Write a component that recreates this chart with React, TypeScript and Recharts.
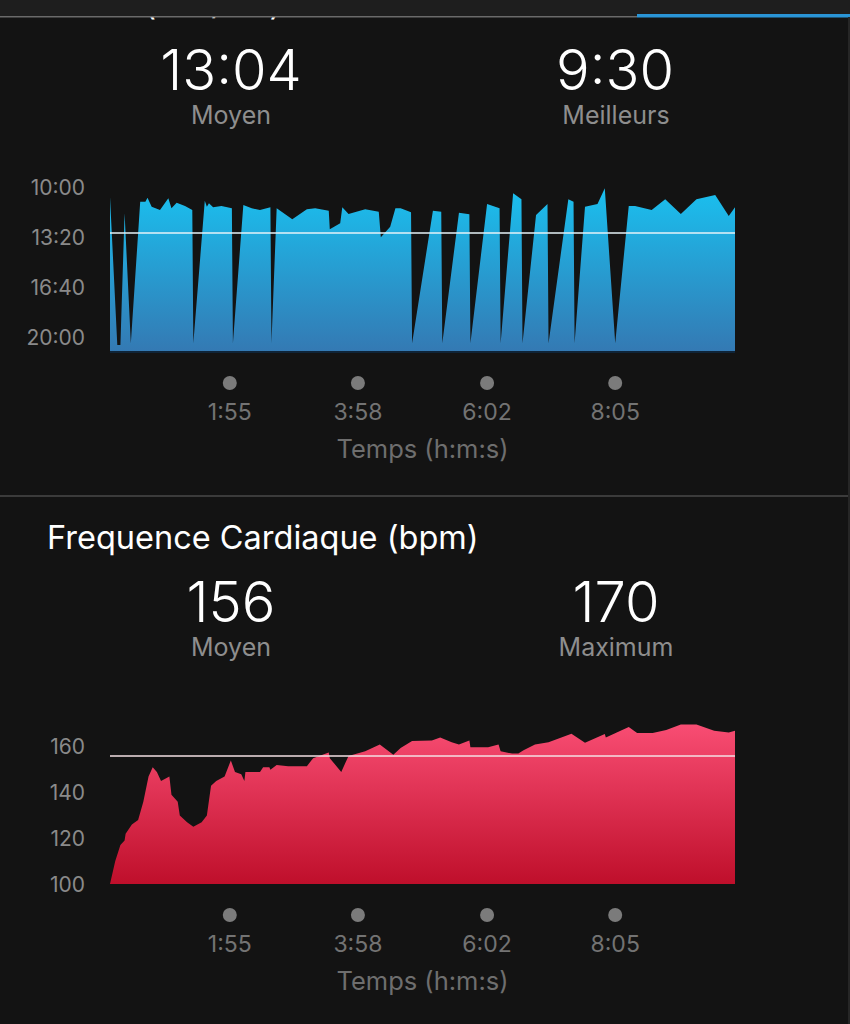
import React from 'react';
import { AreaChart, Area, XAxis, YAxis, ReferenceLine } from 'recharts';

// ---------- data ----------
// Pace chart (time in seconds, pace in seconds per km)
const paceTimes = [0, 7, 10, 14, 20, 29, 34, 36, 40, 48, 56, 59, 64, 72, 79, 80, 91, 93, 95, 99, 107, 117, 118, 128, 136, 144, 154, 155, 160, 175, 189, 197, 210, 211, 221, 223, 229, 245, 258, 260, 269, 274, 279, 289, 290, 310, 318, 319, 335, 345, 346, 362, 374, 375, 387, 395, 396, 409, 420, 421, 440, 445, 446, 456, 468, 475, 485, 498, 504, 520, 533, 548, 563, 581, 594, 600];
const paceValues = [640, 1232, 1232, 705, 1225, 659, 659, 643, 679, 692, 645, 685, 663, 676, 692, 1225, 655, 679, 665, 681, 676, 685, 1225, 672, 685, 692, 681, 1225, 685, 729, 689, 685, 695, 769, 745, 681, 708, 689, 699, 801, 759, 685, 685, 701, 1225, 695, 699, 1225, 703, 709, 1225, 668, 685, 1225, 625, 649, 1225, 712, 668, 1225, 649, 659, 1225, 679, 668, 605, 1225, 676, 676, 692, 649, 708, 649, 632, 716, 681];

// Heart rate chart (time in seconds, bpm)
const hrTimes = [0, 5, 10, 14, 15, 21, 27, 32, 37, 41, 45, 49, 57, 59, 65, 67, 74, 80, 88, 93, 97, 102, 110, 116, 120, 126, 129, 130, 144, 147, 153, 154, 160, 171, 189, 195, 210, 211, 222, 229, 245, 259, 272, 279, 290, 309, 317, 328, 335, 345, 346, 363, 373, 375, 386, 392, 397, 408, 421, 443, 456, 475, 476, 498, 506, 521, 534, 548, 563, 580, 594, 600];
const hrValues = [100, 110, 117, 119, 122, 126, 128, 136, 147, 151, 149, 145, 147, 139, 136, 130, 127, 125, 127, 130, 143, 145, 147, 154, 149, 148, 145, 149, 149, 151, 151, 150, 152, 151.5, 151.5, 155, 157.5, 155, 149, 156, 158, 161, 156.5, 159.5, 162.5, 162.7, 164, 162, 161, 162.7, 159.8, 159.8, 161, 158, 157, 157, 158.5, 161, 162, 165.7, 161.7, 165.6, 164, 168.6, 166, 166, 167.3, 169.7, 169.7, 167, 166.2, 167];

const timeTicks = [115, 238, 362, 485];
const paceTicks = [600, 800, 1000, 1200];
const hrTicks = [100, 120, 140, 160];

const paceTitle = 'Allure (min/km)';
const hrTitle = 'Frequence Cardiaque (bpm)';
const timeAxisTitle = 'Temps (h:m:s)';

const paceAvg = 784;
const paceBest = 570;
const hrAvg = 156;
const hrMax = 170;
const statLabels = ['Moyen', 'Meilleurs', 'Moyen', 'Maximum'];

// ---------- helpers ----------
const FONT = "Inter, 'Noto Sans', 'DejaVu Sans', sans-serif";
const fmtTime = (s: number) =>
  `${Math.floor(s / 60)}:${String(Math.round(s % 60)).padStart(2, '0')}`;

const paceData = paceTimes.map((t, i) => ({ t, pace: paceValues[i] }));
const hrData = hrTimes.map((t, i) => ({ t, hr: hrValues[i] }));

const TimeTick = (props: any) => {
  const { x, y, payload } = props;
  return (
    <g>
      <circle cx={x} cy={y + 31} r={7} fill="#7b7b7b" />
      <text x={x} y={y + 68} textAnchor="middle" fill="#737373" fontSize={23} fontFamily={FONT}>
        {fmtTime(payload.value)}
      </text>
    </g>
  );
};

const makeYTick = (fmt: (v: number) => string) => (props: any) => {
  const { x, y, payload } = props;
  return (
    <text x={x - 25} y={y} dy="0.36em" textAnchor="end" fill="#8a8a8a" fontSize={21} fontFamily={FONT}>
      {fmt(payload.value)}
    </text>
  );
};
const PaceTick = makeYTick(fmtTime);
const HrTick = makeYTick((v) => String(v));

const axisTitle = (props: any) => {
  const vb = props.viewBox || {};
  return (
    <text x={vb.x + vb.width / 2} y={vb.y + 106} textAnchor="middle" fill="#6e6e6e" fontSize={25.5} fontFamily={FONT}>
      {timeAxisTitle}
    </text>
  );
};

const StatText = ({ x, y, value, size, fill, weight }: any) => (
  <text x={x} y={y} textAnchor="middle" fill={fill} fontSize={size} fontWeight={weight} fontFamily={FONT}>
    {value}
  </text>
);

export default function App() {
  return (
    <div
      style={{
        position: 'fixed',
        left: 0,
        top: 0,
        width: 850,
        height: 1024,
        background: '#131313',
        overflow: 'hidden',
        fontFamily: FONT,
      }}
    >
      {/* text overlay */}
      <svg width={850} height={1024} style={{ position: 'absolute', left: 0, top: 0 }}>
        <text x={47} y={15} fill="#ffffff" fontSize={32.5} fontFamily={FONT}>{paceTitle}</text>
        <StatText x={231} y={90} value={fmtTime(paceAvg)} size={56} fill="#ffffff" weight={300} />
        <StatText x={615} y={90} value={fmtTime(paceBest)} size={56} fill="#ffffff" weight={300} />
        <StatText x={231} y={124} value={statLabels[0]} size={25} fill="#8e8e8e" weight={400} />
        <StatText x={616} y={124} value={statLabels[1]} size={25} fill="#8e8e8e" weight={400} />

        <line x1={0} x2={850} y1={496} y2={496} stroke="#4a4a4a" strokeWidth={1.5} />

        <text x={47} y={549} fill="#ffffff" fontSize={32.5} fontFamily={FONT}>{hrTitle}</text>
        <StatText x={231} y={622} value={String(hrAvg)} size={56} fill="#ffffff" weight={300} />
        <StatText x={616} y={622} value={String(hrMax)} size={56} fill="#ffffff" weight={300} />
        <StatText x={231} y={656} value={statLabels[2]} size={25} fill="#8e8e8e" weight={400} />
        <StatText x={616} y={656} value={statLabels[3]} size={25} fill="#8e8e8e" weight={400} />

        {/* top status bar */}
        <rect x={0} y={0} width={850} height={16} fill="#1e1e1e" />
        <rect x={0} y={16} width={637} height={1.5} fill="#6a6a6a" />
        <rect x={637} y={14} width={213} height={3.5} fill="#2a95d6" />
        <rect x={848} y={17} width={2} height={1007} fill="#262626" />
      </svg>

      {/* pace chart */}
      <div style={{ position: 'absolute', left: 0, top: 160 }}>
        <AreaChart width={850} height={310} data={paceData} margin={{ top: 12, right: 115, bottom: 0, left: 0 }}>
          <defs>
            <linearGradient id="paceGrad" x1="0" y1="0" x2="0" y2="1">
              <stop offset="0%" stopColor="#1ac0ef" />
              <stop offset="100%" stopColor="#3479b3" />
            </linearGradient>
          </defs>
          <XAxis
            dataKey="t"
            type="number"
            domain={[0, 600]}
            ticks={timeTicks}
            interval={0}
            tick={<TimeTick />}
            tickLine={false}
            tickSize={0}
            tickMargin={0}
            axisLine={{ stroke: '#0f2438', strokeWidth: 2 }}
            height={118}
            label={axisTitle}
          />
          <YAxis
            type="number"
            domain={[540, 1260]}
            reversed
            ticks={paceTicks}
            interval={0}
            tick={<PaceTick />}
            tickLine={false}
            tickSize={0}
            tickMargin={0}
            axisLine={false}
            width={110}
            allowDataOverflow
          />
          <Area
            type="linear"
            dataKey="pace"
            stroke="none"
            fill="url(#paceGrad)"
            fillOpacity={1}
            baseValue="dataMax"
            dot={false}
            activeDot={false}
            isAnimationActive={false}
          />
          <ReferenceLine y={paceAvg} stroke="#e6f3f9" strokeWidth={1.5} />
        </AreaChart>
      </div>

      {/* heart rate chart */}
      <div style={{ position: 'absolute', left: 0, top: 690 }}>
        <AreaChart width={850} height={310} data={hrData} margin={{ top: 11, right: 115, bottom: 0, left: 0 }}>
          <defs>
            <linearGradient id="hrGrad" x1="0" y1="0" x2="0" y2="1">
              <stop offset="0%" stopColor="#f84d73" />
              <stop offset="100%" stopColor="#bf0f2b" />
            </linearGradient>
          </defs>
          <XAxis
            dataKey="t"
            type="number"
            domain={[0, 600]}
            ticks={timeTicks}
            interval={0}
            tick={<TimeTick />}
            tickLine={false}
            tickSize={0}
            tickMargin={0}
            axisLine={false}
            height={116}
            label={axisTitle}
          />
          <YAxis
            type="number"
            domain={[100, 180]}
            ticks={hrTicks}
            interval={0}
            tick={<HrTick />}
            tickLine={false}
            tickSize={0}
            tickMargin={0}
            axisLine={false}
            width={110}
            allowDataOverflow
          />
          <Area
            type="linear"
            dataKey="hr"
            stroke="none"
            fill="url(#hrGrad)"
            fillOpacity={1}
            baseValue="dataMin"
            dot={false}
            activeDot={false}
            isAnimationActive={false}
          />
          <ReferenceLine y={hrAvg} stroke="#f3e1e4" strokeWidth={1.5} />
        </AreaChart>
      </div>
    </div>
  );
}
